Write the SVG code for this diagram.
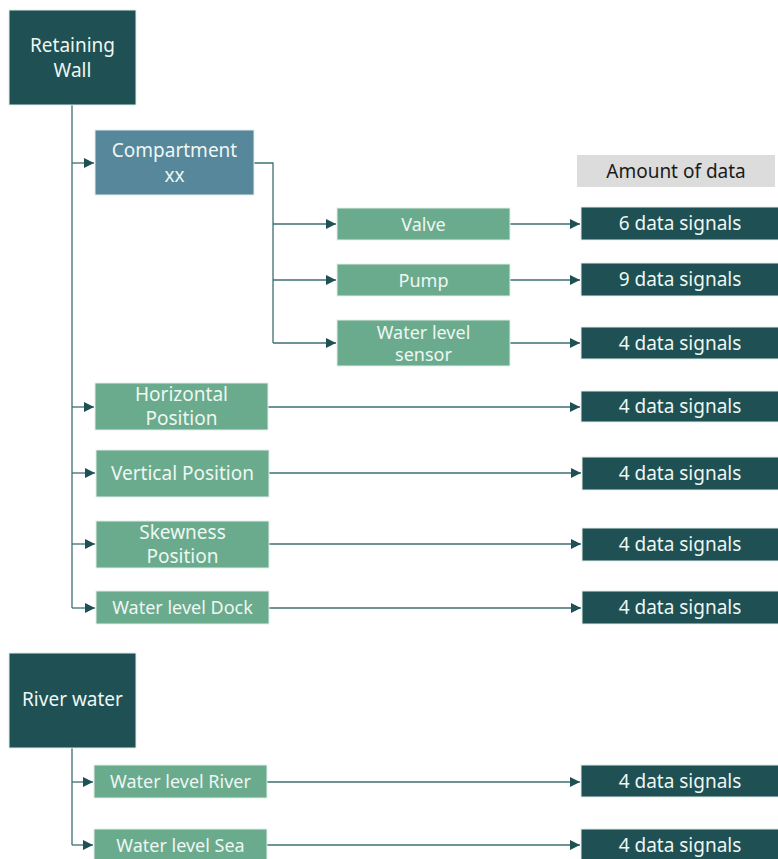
<svg xmlns="http://www.w3.org/2000/svg" width="778" height="859" viewBox="0 0 778 859">
<style>
.dark{fill:#1f5054;stroke:#dfeee8;stroke-width:1}
.blue{fill:#56879b;stroke:#dfeee8;stroke-width:1}
.green{fill:#6aab8e;stroke:#dfeee8;stroke-width:1}
.grey{fill:#dcdcdc}
.t{font-family:"Noto Sans","Open Sans",sans-serif;fill:#eef7f2;text-anchor:middle;dominant-baseline:central}
.l{font-size:19px}
.m{font-size:18px}
.c{fill:none;stroke:#3f6e74;stroke-width:1.3}
</style>
<defs>
<marker id="ah" viewBox="0 0 10 10" refX="10" refY="5" markerWidth="10" markerHeight="10" markerUnits="userSpaceOnUse" orient="auto">
<path d="M0,0 L10,5 L0,10 z" fill="#1f5054"/>
</marker>
</defs>
<g id="connectors">
<path class="c" d="M72,105 V608"/>
<path class="c" d="M72,163 H94" marker-end="url(#ah)"/>
<path class="c" d="M72,407 H94" marker-end="url(#ah)"/>
<path class="c" d="M72,473 H95" marker-end="url(#ah)"/>
<path class="c" d="M72,544 H95" marker-end="url(#ah)"/>
<path class="c" d="M72,608 H95" marker-end="url(#ah)"/>
<path class="c" d="M254,163 H273 V343"/>
<path class="c" d="M273,224 H336" marker-end="url(#ah)"/>
<path class="c" d="M273,280 H336" marker-end="url(#ah)"/>
<path class="c" d="M273,343 H336" marker-end="url(#ah)"/>
<path class="c" d="M510,224 H580" marker-end="url(#ah)"/>
<path class="c" d="M510,280 H580" marker-end="url(#ah)"/>
<path class="c" d="M510,343 H580" marker-end="url(#ah)"/>
<path class="c" d="M268,407 H580" marker-end="url(#ah)"/>
<path class="c" d="M269,473 H581" marker-end="url(#ah)"/>
<path class="c" d="M269,544 H581" marker-end="url(#ah)"/>
<path class="c" d="M269,608 H581" marker-end="url(#ah)"/>
<path class="c" d="M72,748 V845"/>
<path class="c" d="M72,782 H93" marker-end="url(#ah)"/>
<path class="c" d="M72,845 H93" marker-end="url(#ah)"/>
<path class="c" d="M267,782 H580" marker-end="url(#ah)"/>
<path class="c" d="M267,845 H580" marker-end="url(#ah)"/>
</g>
<g id="retaining-wall"><rect class="dark" x="9" y="10" width="127" height="95"/><text class="t l" x="72.5" y="45">Retaining</text><text class="t l" x="72.5" y="70">Wall</text></g>
<g id="compartment"><rect class="blue" x="95" y="130" width="159" height="65"/><text class="t l" x="174.5" y="150">Compartment</text><text class="t l" x="174.5" y="175">xx</text></g>
<g id="amount-header"><rect class="grey" x="577" y="155" width="198" height="32"/><text class="t l" x="676" y="171" style="fill:#1a1a1a">Amount of data</text></g>
<g id="valve"><rect class="green" x="337" y="208" width="173" height="32"/><text class="t m" x="423.5" y="224">Valve</text></g>
<g id="pump"><rect class="green" x="337" y="264" width="173" height="32"/><text class="t m" x="423.5" y="280">Pump</text></g>
<g id="sensor"><rect class="green" x="337" y="320" width="173" height="46"/><text class="t m" x="423.5" y="332">Water level</text><text class="t m" x="423.5" y="354">sensor</text></g>
<g id="d-valve"><rect class="dark" x="581" y="207" width="200" height="33"/><text class="t l" x="680" y="223">6 data signals</text></g>
<g id="d-pump"><rect class="dark" x="581" y="263" width="200" height="33"/><text class="t l" x="680" y="279">9 data signals</text></g>
<g id="d-sensor"><rect class="dark" x="581" y="327" width="200" height="32"/><text class="t l" x="680" y="343">4 data signals</text></g>
<g id="horizontal"><rect class="green" x="95" y="383" width="173" height="47"/><text class="t l" x="181.5" y="394">Horizontal</text><text class="t l" x="181.5" y="418">Position</text></g>
<g id="vertical"><rect class="green" x="96" y="450" width="173" height="47"/><text class="t l" x="182.5" y="473">Vertical Position</text></g>
<g id="skewness"><rect class="green" x="96" y="521" width="173" height="47"/><text class="t l" x="182.5" y="532">Skewness</text><text class="t l" x="182.5" y="556">Position</text></g>
<g id="dock"><rect class="green" x="96" y="591" width="173" height="33"/><text class="t m" x="182.5" y="607">Water level Dock</text></g>
<g id="d-horizontal"><rect class="dark" x="581" y="391" width="200" height="31"/><text class="t l" x="680" y="406">4 data signals</text></g>
<g id="d-vertical"><rect class="dark" x="582" y="457" width="200" height="33"/><text class="t l" x="680" y="473">4 data signals</text></g>
<g id="d-skewness"><rect class="dark" x="582" y="528" width="200" height="33"/><text class="t l" x="680" y="544">4 data signals</text></g>
<g id="d-dock"><rect class="dark" x="582" y="591" width="200" height="33"/><text class="t l" x="680" y="607">4 data signals</text></g>
<g id="river-water"><rect class="dark" x="9" y="653" width="127" height="95"/><text class="t l" x="72.5" y="699">River water</text></g>
<g id="wl-river"><rect class="green" x="94" y="765" width="173" height="33"/><text class="t m" x="180.5" y="781">Water level River</text></g>
<g id="wl-sea"><rect class="green" x="94" y="829" width="173" height="33"/><text class="t m" x="180.5" y="845">Water level Sea</text></g>
<g id="d-river"><rect class="dark" x="581" y="765" width="200" height="32"/><text class="t l" x="680" y="781">4 data signals</text></g>
<g id="d-sea"><rect class="dark" x="581" y="829" width="200" height="33"/><text class="t l" x="680" y="845">4 data signals</text></g>
</svg>
